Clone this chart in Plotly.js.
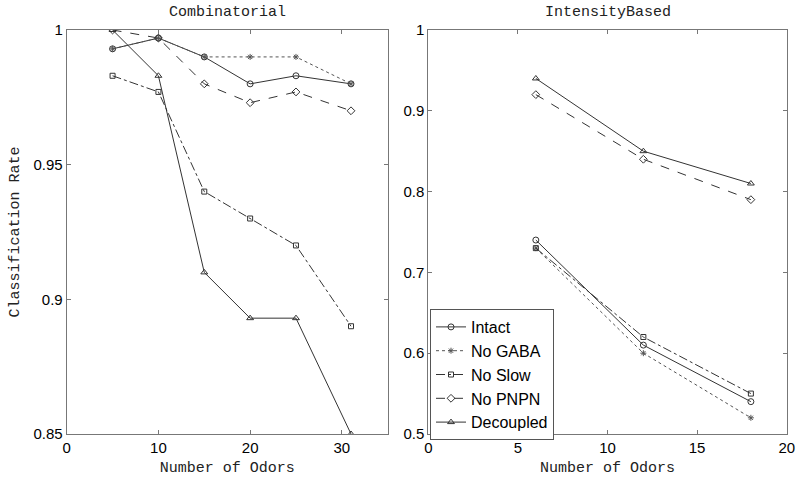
<!DOCTYPE html>
<html><head><meta charset="utf-8">
<script src="https://cdn.plot.ly/plotly-3.0.1.min.js"></script>
<style>html,body{margin:0;padding:0;background:#fff}#plot{width:800px;height:479px}</style>
</head><body><div id="plot"></div>
<script>
// Combinatorial panel
const combX = [5, 10, 15, 20, 25, 31];
const combIntact    = [0.993, 0.997, 0.990, 0.980, 0.983, 0.980];
const combNoGABA    = [0.993, 0.997, 0.990, 0.990, 0.990, 0.980];
const combNoSlow    = [0.983, 0.977, 0.940, 0.930, 0.920, 0.890];
const combNoPNPN    = [1.000, 0.997, 0.980, 0.973, 0.977, 0.970];
const combDecoupled = [1.000, 0.983, 0.910, 0.893, 0.893, 0.850];
// IntensityBased panel
const intX = [6, 12, 18];
const intIntact    = [0.74, 0.61, 0.54];
const intNoGABA    = [0.73, 0.60, 0.52];
const intNoSlow    = [0.73, 0.62, 0.55];
const intNoPNPN    = [0.92, 0.84, 0.79];
const intDecoupled = [0.94, 0.85, 0.81];
const seriesNames = ['Intact', 'No GABA', 'No Slow', 'No PNPN', 'Decoupled'];

const col = '#333333';
const styles = [
  {dash: 'solid', symbol: 'circle-open', size: 6, color: '#333333'},
  {dash: 'dot', symbol: 'asterisk-open', size: 5, color: '#555555'},
  {dash: 'dashdot', symbol: 'square-open', size: 5, color: '#333333'},
  {dash: 'dash', symbol: 'diamond-open', size: 6, color: '#333333'},
  {dash: 'solid', symbol: 'triangle-up-open', size: 6, color: '#333333'}
];
const combY = [combIntact, combNoGABA, combNoSlow, combNoPNPN, combDecoupled];
const intY = [intIntact, intNoGABA, intNoSlow, intNoPNPN, intDecoupled];

const traces = [];
seriesNames.forEach((n, i) => {
  const s = styles[i];
  traces.push({x: combX, y: combY[i], name: n, type: 'scatter', mode: 'lines+markers',
    xaxis: 'x', yaxis: 'y', showlegend: false,
    line: {color: s.color, width: 1, dash: s.dash},
    marker: {symbol: s.symbol, size: s.size, color: s.color, line: {color: s.color, width: 1}}});
});
seriesNames.forEach((n, i) => {
  const s = styles[i];
  traces.push({x: intX, y: intY[i], name: n, type: 'scatter', mode: 'lines+markers',
    xaxis: 'x2', yaxis: 'y2', showlegend: true,
    line: {color: s.color, width: 1, dash: s.dash},
    marker: {symbol: s.symbol, size: s.size, color: s.color, line: {color: s.color, width: 1}}});
});

const tickFont = {family: 'Liberation Sans, Arial, sans-serif', size: 15, color: '#000'};
const monoFont = {family: 'Liberation Mono, Courier New, monospace', size: 15, color: '#222'};
const axBase = {showline: true, linecolor: '#777', linewidth: 1, mirror: 'ticks', ticks: 'inside',
  ticklen: 4, tickcolor: '#777', showgrid: false, zeroline: false, tickfont: tickFont, automargin: false};

const layout = {
  width: 800, height: 479,
  margin: {l: 0, r: 0, t: 0, b: 0},
  paper_bgcolor: '#fff', plot_bgcolor: '#fff',
  xaxis: Object.assign({}, axBase, {domain: [0.0834, 0.4846], range: [0, 35], tickvals: [0, 10, 20, 30],
    anchor: 'y', title: {text: 'Number of Odors', font: monoFont, standoff: 6}}),
  yaxis: Object.assign({}, axBase, {domain: [0.094, 0.9374], range: [0.85, 1], tickvals: [0.85, 0.9, 0.95, 1],
    ticktext: ['0.85', '0.9', '0.95', '1'],
    anchor: 'x', title: {text: 'Classification Rate', font: monoFont, standoff: 10}}),
  xaxis2: Object.assign({}, axBase, {domain: [0.5354, 0.9834], range: [0, 20], tickvals: [0, 5, 10, 15, 20],
    anchor: 'y2', title: {text: 'Number of Odors', font: monoFont, standoff: 6}}),
  yaxis2: Object.assign({}, axBase, {domain: [0.094, 0.9374], range: [0.5, 1], tickvals: [0.5, 0.6, 0.7, 0.8, 0.9, 1],
    ticktext: ['0.5', '0.6', '0.7', '0.8', '0.9', '1'], anchor: 'x2'}),
  annotations: [
    {text: 'Combinatorial', xref: 'paper', yref: 'paper', x: 0.284, y: 1 - 12/479, xanchor: 'center', yanchor: 'middle', showarrow: false, font: monoFont},
    {text: 'IntensityBased', xref: 'paper', yref: 'paper', x: 0.7594, y: 1 - 12/479, xanchor: 'center', yanchor: 'middle', showarrow: false, font: monoFont}
  ],
  legend: {x: 0.5375, y: 1 - 309/479, xanchor: 'left', yanchor: 'top', bgcolor: '#fff',
    bordercolor: '#555', borderwidth: 1, font: {family: 'Liberation Sans, Arial, sans-serif', size: 16, color: '#000'},
    itemwidth: 30, tracegroupgap: 0},
  showlegend: true
};

Plotly.newPlot('plot', traces, layout, {staticPlot: true, displayModeBar: false});
</script>
</body></html>
